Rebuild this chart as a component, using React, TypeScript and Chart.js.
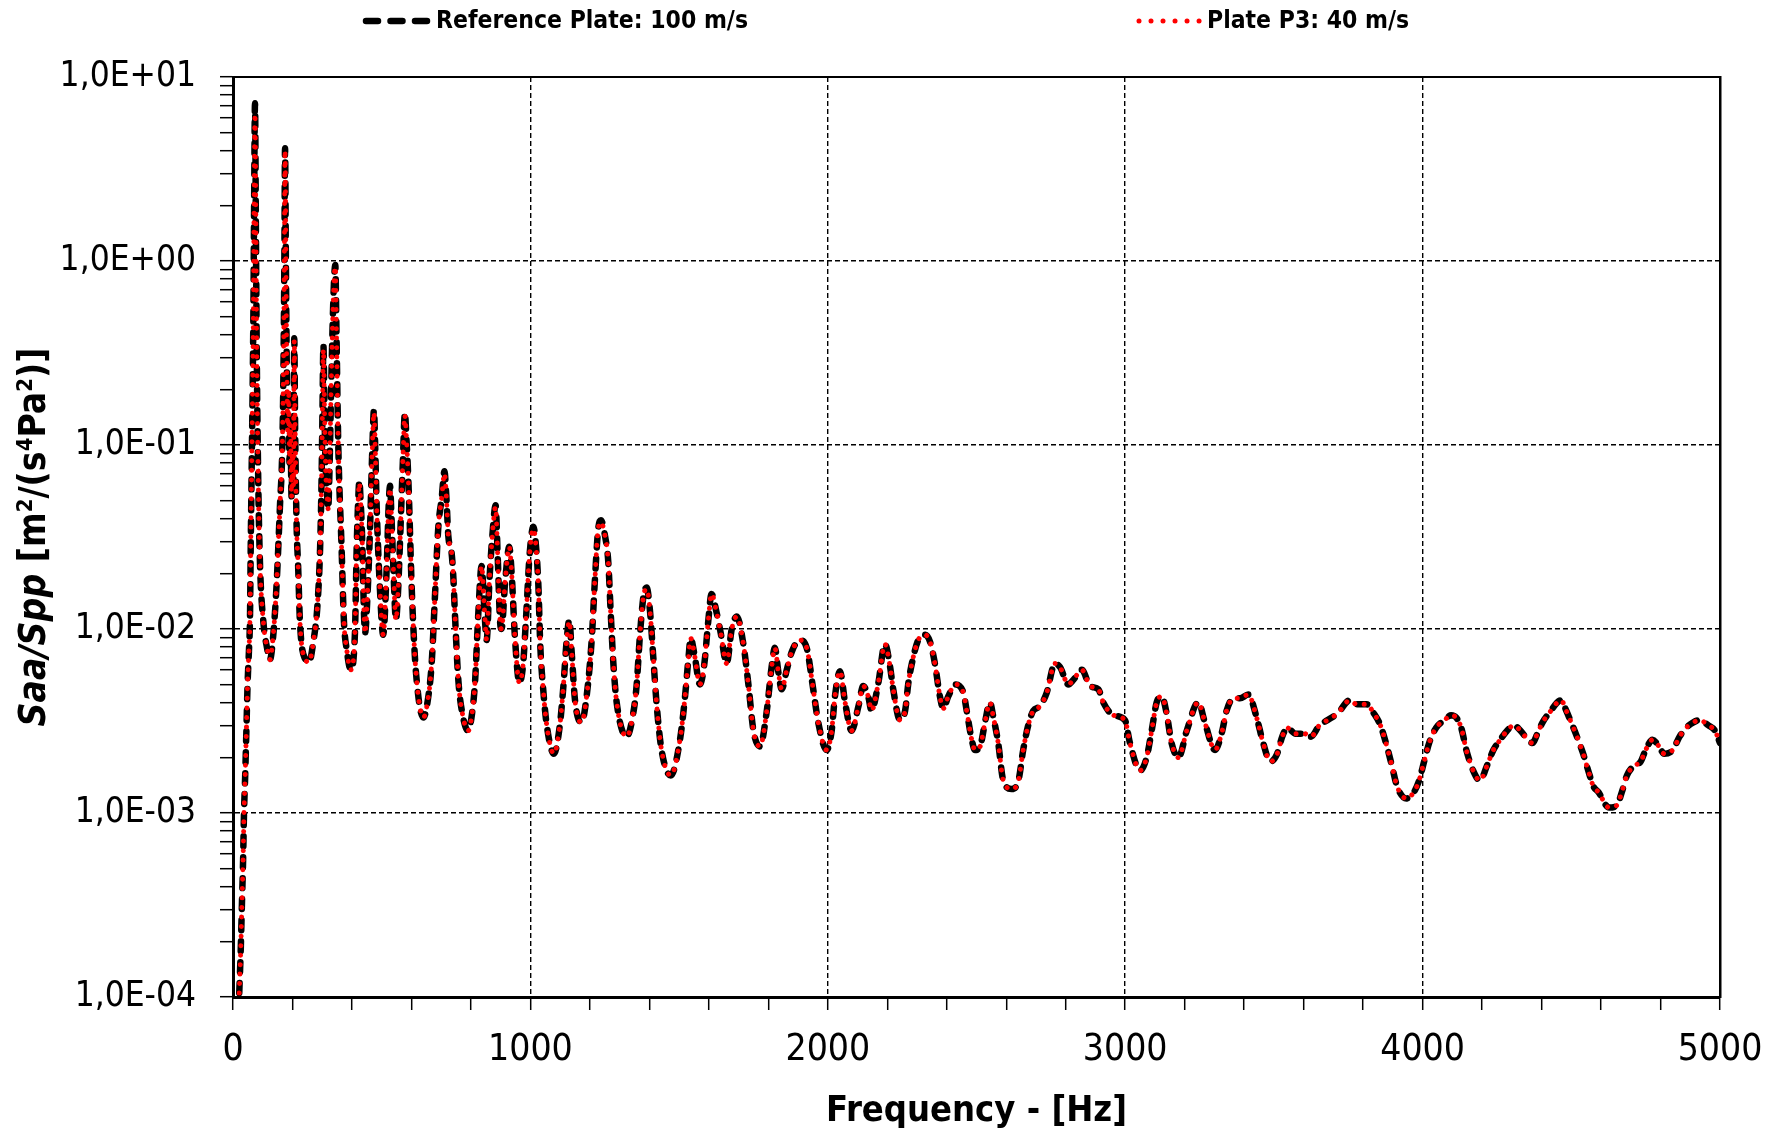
import React, { useEffect, useRef } from 'react';
import { Chart, registerables } from 'chart.js';

Chart.register(...registerables);

// ---------------- DATA ----------------
const frequencies = [
  21, 26, 30, 34, 37, 41, 45, 49, 54, 57, 60, 63, 66, 69, 71, 74, 77, 80, 85, 91,
  102, 115, 124, 136, 147, 158, 166, 170, 173, 175, 178, 181, 184, 187, 190, 193, 197, 200, 203, 206,
  209, 214, 219, 225, 242, 256, 270, 284, 293, 298, 301, 304, 308, 312, 316, 320, 325, 330, 335, 340,
  344, 348, 354, 365, 373, 382, 396, 410, 416, 421, 425, 429, 433, 444, 452, 461, 468, 474, 478, 483,
  494, 505, 517, 523, 528, 533, 539, 548, 555, 561, 571, 578, 583, 590, 601, 612, 620, 629, 640, 655,
  668, 679, 690, 702, 711, 718, 724, 735, 741, 746, 758, 774, 791, 803, 814, 825, 836, 845, 853, 862,
  872, 883, 890, 898, 903, 915, 929, 937, 948, 963, 975, 986, 997, 1010, 1019, 1027, 1033, 1044, 1055, 1079,
  1099, 1111, 1122, 1131, 1139, 1150, 1172, 1189, 1206, 1217, 1228, 1237, 1251, 1262, 1270, 1279, 1290, 1324, 1346, 1357,
  1368, 1380, 1391, 1402, 1413, 1425, 1441, 1472, 1503, 1520, 1531, 1539, 1552, 1570, 1585, 1598, 1609, 1626, 1640, 1660,
  1677, 1694, 1716, 1733, 1750, 1772, 1794, 1811, 1822, 1834, 1845, 1862, 1880, 1906, 1929, 1951, 1968, 1996, 2013, 2024,
  2041, 2058, 2080, 2103, 2119, 2136, 2147, 2170, 2192, 2209, 2220, 2243, 2260, 2271, 2288, 2304, 2327, 2344, 2360, 2377,
  2388, 2405, 2428, 2456, 2467, 2484, 2495, 2512, 2530, 2545, 2557, 2573, 2590, 2618, 2641, 2657, 2674, 2691, 2713, 2736,
  2764, 2781, 2809, 2826, 2854, 2882, 2910, 2926, 2960, 2999, 3016, 3050, 3072, 3089, 3106, 3123, 3139, 3156, 3179, 3207,
  3246, 3268, 3302, 3324, 3341, 3364, 3386, 3414, 3442, 3464, 3488, 3511, 3528, 3545, 3573, 3602, 3625, 3653, 3681, 3716,
  3755, 3778, 3812, 3835, 3858, 3880, 3897, 3914, 3945, 3971, 3988, 4005, 4022, 4045, 4074, 4096, 4113, 4130, 4147, 4170,
  4193, 4216, 4238, 4261, 4284, 4307, 4329, 4369, 4386, 4403, 4426, 4466, 4483, 4500, 4523, 4540, 4557, 4574, 4591, 4627,
  4653, 4670, 4687, 4710, 4733, 4750, 4773, 4795, 4812, 4841, 4864, 4886, 4909, 4932, 4960, 4983, 5000,
];

const referencePlateValues = [
  1.05e-4, 1.8e-4, 3.2e-4, 5.6e-4, 1.0e-3, 1.6e-3, 2.8e-3, 5.0e-3, 7.9e-3, 0.0112, 0.032, 0.079, 0.2, 0.63, 2.0, 7.2, 1.5, 0.3, 0.062, 0.022,
  0.011, 0.0078, 0.0068, 0.0095, 0.018, 0.047, 0.1, 0.29, 1.2, 4.1, 0.9, 0.25, 0.12, 0.2, 0.08, 0.13, 0.052, 0.09, 0.06, 0.38,
  0.12, 0.036, 0.022, 0.011, 0.0069, 0.0066, 0.0085, 0.0135, 0.028, 0.068, 0.16, 0.35, 0.14, 0.07, 0.055, 0.045, 0.08, 0.2, 0.45, 0.8,
  0.95, 0.4, 0.1, 0.028, 0.011, 0.0078, 0.006, 0.0095, 0.028, 0.05, 0.064, 0.05, 0.036, 0.0095, 0.015, 0.036, 0.09, 0.155, 0.1, 0.047,
  0.0166, 0.0093, 0.022, 0.045, 0.06, 0.04, 0.022, 0.0112, 0.016, 0.028, 0.08, 0.15, 0.11, 0.062, 0.0166, 0.0069, 0.0048, 0.0037, 0.0033, 0.0041,
  0.0065, 0.015, 0.035, 0.052, 0.072, 0.05, 0.032, 0.026, 0.019, 0.0123, 0.0052, 0.0033, 0.0028, 0.0034, 0.0052, 0.0123, 0.022, 0.013, 0.0087, 0.018,
  0.032, 0.047, 0.025, 0.011, 0.01, 0.018, 0.028, 0.02, 0.009, 0.0051, 0.0063, 0.012, 0.025, 0.036, 0.028, 0.017, 0.0083, 0.0045, 0.003, 0.0021,
  0.003, 0.0049, 0.0087, 0.0112, 0.0074, 0.0041, 0.0031, 0.0043, 0.0087, 0.0186, 0.035, 0.039, 0.032, 0.023, 0.0123, 0.0065, 0.004, 0.0026, 0.0035, 0.0049,
  0.0091, 0.015, 0.0168, 0.0126, 0.0071, 0.0038, 0.0022, 0.0016, 0.0025, 0.0043, 0.0068, 0.0089, 0.0072, 0.005, 0.0065, 0.011, 0.0155, 0.0123, 0.0095, 0.0065,
  0.01, 0.0117, 0.0083, 0.005, 0.0028, 0.0023, 0.0035, 0.0062, 0.0079, 0.0058, 0.0047, 0.006, 0.0076, 0.0087, 0.0079, 0.0047, 0.0031, 0.0022, 0.0028, 0.0043,
  0.0059, 0.004, 0.0028, 0.0038, 0.0049, 0.0043, 0.0036, 0.0051, 0.0083, 0.0063, 0.0047, 0.0032, 0.0036, 0.0051, 0.0071, 0.0087, 0.0093, 0.0085, 0.0065, 0.0043,
  0.0037, 0.0043, 0.005, 0.0045, 0.0036, 0.0025, 0.0022, 0.0023, 0.0032, 0.004, 0.0033, 0.0024, 0.0015, 0.00135, 0.0015, 0.0022, 0.003, 0.0036, 0.0038, 0.0045,
  0.0065, 0.0062, 0.005, 0.0053, 0.006, 0.0049, 0.0047, 0.004, 0.0034, 0.0032, 0.0024, 0.0017, 0.002, 0.0028, 0.004, 0.0043, 0.0035, 0.0024, 0.002, 0.0028,
  0.004, 0.0031, 0.0022, 0.0027, 0.0036, 0.0042, 0.0042, 0.0044, 0.0033, 0.0024, 0.0019, 0.0021, 0.0026, 0.0029, 0.0027, 0.0027, 0.0026, 0.003, 0.0032, 0.0035,
  0.0041, 0.0039, 0.0039, 0.0035, 0.003, 0.0023, 0.0018, 0.0014, 0.0012, 0.0013, 0.0015, 0.0019, 0.0024, 0.0029, 0.0032, 0.0034, 0.0033, 0.0029, 0.0022, 0.0017,
  0.0015, 0.0018, 0.0022, 0.0025, 0.0028, 0.003, 0.0028, 0.0024, 0.0027, 0.0031, 0.0035, 0.0041, 0.0036, 0.0031, 0.0025, 0.0021, 0.0017, 0.0014, 0.0013, 0.00107,
  0.0011, 0.0013, 0.0016, 0.0018, 0.0019, 0.0022, 0.0025, 0.0023, 0.0021, 0.0022, 0.0026, 0.0029, 0.0031, 0.0032, 0.003, 0.0028, 0.0024,
];

const plateP3Values = [
  1.05e-4, 1.8e-4, 3.2e-4, 5.6e-4, 1.0e-3, 1.6e-3, 2.8e-3, 5.0e-3, 7.9e-3, 0.0112, 0.032, 0.079, 0.2, 0.63, 2.0, 6.3, 1.5, 0.3, 0.062, 0.022,
  0.011, 0.0078, 0.0068, 0.0095, 0.018, 0.047, 0.1, 0.29, 1.2, 4.0, 0.9, 0.25, 0.12, 0.2, 0.08, 0.13, 0.052, 0.09, 0.06, 0.37,
  0.12, 0.036, 0.022, 0.011, 0.0069, 0.0066, 0.0085, 0.0135, 0.028, 0.068, 0.16, 0.33, 0.14, 0.07, 0.055, 0.045, 0.08, 0.2, 0.45, 0.8,
  0.93, 0.4, 0.1, 0.028, 0.011, 0.0078, 0.006, 0.0095, 0.028, 0.05, 0.062, 0.05, 0.036, 0.0095, 0.015, 0.036, 0.09, 0.15, 0.1, 0.047,
  0.0166, 0.0093, 0.022, 0.045, 0.058, 0.04, 0.022, 0.0112, 0.016, 0.028, 0.08, 0.145, 0.11, 0.062, 0.0166, 0.0069, 0.0048, 0.0037, 0.0033, 0.0041,
  0.0065, 0.015, 0.035, 0.052, 0.07, 0.05, 0.032, 0.026, 0.019, 0.0123, 0.0052, 0.0033, 0.0028, 0.0034, 0.0052, 0.0123, 0.022, 0.013, 0.0087, 0.018,
  0.032, 0.046, 0.025, 0.011, 0.01, 0.018, 0.028, 0.02, 0.009, 0.0051, 0.0063, 0.012, 0.025, 0.035, 0.028, 0.017, 0.0083, 0.0045, 0.003, 0.0021,
  0.003, 0.0049, 0.0087, 0.011, 0.0074, 0.0041, 0.0031, 0.0043, 0.0087, 0.0186, 0.035, 0.038, 0.032, 0.023, 0.0123, 0.0065, 0.004, 0.0026, 0.0035, 0.0049,
  0.0091, 0.015, 0.0165, 0.0126, 0.0071, 0.0038, 0.0022, 0.0016, 0.0025, 0.0043, 0.0068, 0.0089, 0.0072, 0.005, 0.0065, 0.011, 0.0155, 0.0123, 0.0095, 0.0065,
  0.01, 0.0117, 0.0083, 0.005, 0.0028, 0.0023, 0.0035, 0.0062, 0.0079, 0.0058, 0.0047, 0.006, 0.0076, 0.0087, 0.0079, 0.0047, 0.0031, 0.0022, 0.0028, 0.0043,
  0.0059, 0.004, 0.0028, 0.0038, 0.0049, 0.0043, 0.0036, 0.0051, 0.0083, 0.0063, 0.0047, 0.0032, 0.0036, 0.0051, 0.0071, 0.0087, 0.0093, 0.0085, 0.0065, 0.0043,
  0.0037, 0.0043, 0.005, 0.0045, 0.0036, 0.0025, 0.0022, 0.0023, 0.0032, 0.004, 0.0033, 0.0024, 0.0015, 0.00135, 0.0015, 0.0022, 0.003, 0.0036, 0.0038, 0.0045,
  0.0065, 0.0062, 0.005, 0.0053, 0.006, 0.0049, 0.0047, 0.004, 0.0034, 0.0032, 0.0024, 0.0017, 0.002, 0.0028, 0.004, 0.0043, 0.0035, 0.0024, 0.002, 0.0028,
  0.004, 0.0031, 0.0022, 0.0027, 0.0036, 0.0042, 0.0042, 0.0044, 0.0033, 0.0024, 0.0019, 0.0021, 0.0026, 0.0029, 0.0027, 0.0027, 0.0026, 0.003, 0.0032, 0.0035,
  0.0041, 0.0039, 0.0039, 0.0035, 0.003, 0.0023, 0.0018, 0.0014, 0.0012, 0.0013, 0.0015, 0.0019, 0.0024, 0.0029, 0.0032, 0.0034, 0.0033, 0.0029, 0.0022, 0.0017,
  0.0015, 0.0018, 0.0022, 0.0025, 0.0028, 0.003, 0.0028, 0.0024, 0.0027, 0.0031, 0.0035, 0.0041, 0.0036, 0.0031, 0.0025, 0.0021, 0.0017, 0.0014, 0.0013, 0.00107,
  0.0011, 0.0013, 0.0016, 0.0018, 0.0019, 0.0022, 0.0025, 0.0023, 0.0021, 0.0022, 0.0026, 0.0029, 0.0031, 0.0032, 0.003, 0.0028, 0.0024,
];

const seriesNames = ['Reference Plate: 100 m/s', 'Plate P3: 40 m/s'];
const xMajorTicks = [0, 1000, 2000, 3000, 4000, 5000];
const xTickLabels = ['0', '1000', '2000', '3000', '4000', '5000'];
const xMinorStep = 200;
const yMajorTicks = [1e-4, 1e-3, 1e-2, 1e-1, 1, 10];
const yTickLabels = ['1,0E-04', '1,0E-03', '1,0E-02', '1,0E-01', '1,0E+00', '1,0E+01'];
const xAxisTitle = 'Frequency - [Hz]';
// y title pieces: [text, style]
const yAxisTitleParts: [string, string][] = [
  ['Saa/Spp', 'italic'],
  [' [m', 'normal'],
  ['2', 'sup'],
  ['/(s', 'normal'],
  ['4', 'sup'],
  ['Pa', 'normal'],
  ['2', 'sup'],
  [')]', 'normal'],
];

// ---------------- STYLE ----------------
const FONT = "'Liberation Sans Narrow', 'DejaVu Sans Condensed', 'Open Sans', sans-serif";
const W = 1781;
const H = 1133;
const AREA = { left: 233, right: 1720, top: 77, bottom: 997 };
const BLACK_DASH = [10, 11];
const RED_DOT = [0.01, 9.5];

const isMajorX = (v: number) => xMajorTicks.indexOf(v) >= 0;
const isMajorY = (v: number) => yMajorTicks.some((m) => Math.abs(m - v) / m < 1e-6);

const textPlugin = {
  id: 'customText',
  afterDraw(chart: any) {
    const ctx = chart.ctx as CanvasRenderingContext2D;
    ctx.save();
    // legend
    const items = [
      { x0: 366, x1: 427, tx: 436, color: '#000000', width: 6.5, dash: [12, 12.5], label: seriesNames[0] },
      { x0: 1139, x1: 1201, tx: 1207, color: '#ff0000', width: 5, dash: [0.01, 12], label: seriesNames[1] },
    ];
    const ly = 21;
    for (const it of items) {
      ctx.save();
      ctx.strokeStyle = it.color;
      ctx.lineWidth = it.width;
      ctx.lineCap = 'round';
      ctx.setLineDash(it.dash);
      ctx.beginPath();
      ctx.moveTo(it.x0, ly);
      ctx.lineTo(it.x1, ly);
      ctx.stroke();
      ctx.restore();
      ctx.fillStyle = '#000';
      ctx.font = `bold 24.5px ${FONT}`;
      ctx.textAlign = 'left';
      ctx.textBaseline = 'middle';
      ctx.fillText(it.label, it.tx, ly + 1);
    }
    // y-axis title
    const size = 37;
    const supSize = 22;
    const fontFor = (style: string) =>
      style === 'italic' ? `italic bold ${size}px ${FONT}` : style === 'sup' ? `bold ${supSize}px ${FONT}` : `bold ${size}px ${FONT}`;
    let total = 0;
    for (const [t, s] of yAxisTitleParts) {
      ctx.font = fontFor(s);
      total += ctx.measureText(t).width;
    }
    const area = chart.chartArea;
    ctx.translate(35, (area.top + area.bottom) / 2);
    ctx.rotate(-Math.PI / 2);
    ctx.fillStyle = '#000';
    ctx.textAlign = 'left';
    ctx.textBaseline = 'middle';
    let x = -total / 2;
    for (const [t, s] of yAxisTitleParts) {
      ctx.font = fontFor(s);
      ctx.fillText(t, x, s === 'sup' ? -9 : 0);
      x += ctx.measureText(t).width;
    }
    ctx.restore();
  },
};

export default function App() {
  const canvasRef = useRef<HTMLCanvasElement | null>(null);

  useEffect(() => {
    const canvas = canvasRef.current;
    if (!canvas) return;

    const refData = frequencies.map((f, i) => ({ x: f, y: referencePlateValues[i] }));
    const p3Data = frequencies.map((f, i) => ({ x: f, y: plateP3Values[i] }));

    const chart = new Chart(canvas, {
      type: 'line',
      data: {
        datasets: [
          {
            label: seriesNames[0],
            data: refData,
            borderColor: '#000000',
            borderWidth: 6.5,
            borderDash: BLACK_DASH,
            borderCapStyle: 'round',
            borderJoinStyle: 'round',
            pointRadius: 0,
            fill: false,
            cubicInterpolationMode: 'monotone',
            order: 2,
            xAxisID: 'x',
            yAxisID: 'y',
          },
          {
            label: seriesNames[1],
            data: p3Data,
            borderColor: '#ff0000',
            borderWidth: 5,
            borderDash: RED_DOT,
            borderCapStyle: 'round',
            borderJoinStyle: 'round',
            pointRadius: 0,
            fill: false,
            cubicInterpolationMode: 'monotone',
            order: 1,
            xAxisID: 'x',
            yAxisID: 'y',
          },
        ],
      },
      options: {
        responsive: false,
        animation: false,
        events: [],
        layout: { padding: { top: AREA.top, left: 0, right: W - AREA.right, bottom: 0 } },
        plugins: {
          legend: { display: false },
          tooltip: { enabled: false },
          title: { display: false },
        },
        scales: {
          x: {
            type: 'linear',
            position: 'bottom',
            min: 0,
            max: 5000,
            afterBuildTicks: (scale: any) => {
              const ticks = [];
              for (let v = 0; v <= 5000; v += xMinorStep) ticks.push({ value: v, major: isMajorX(v) });
              scale.ticks = ticks;
            },
            afterFit: (scale: any) => {
              scale.height = H - AREA.bottom;
              scale.paddingLeft = 0;
              scale.paddingRight = 0;
            },
            ticks: {
              autoSkip: false,
              maxRotation: 0,
              color: '#000',
              padding: 22,
              font: { family: FONT, size: 37, lineHeight: 1 },
              callback: (value: any) => {
                const i = xMajorTicks.indexOf(Number(value));
                return i >= 0 ? xTickLabels[i] : '';
              },
            },
            grid: {
              color: (c: any) => (c.tick && isMajorX(c.tick.value) ? '#000' : 'rgba(0,0,0,0)'),
              lineWidth: 1.4,
              tickColor: '#000',
              tickLength: 13,
              tickWidth: 1.5,
              tickBorderDash: [],
            },
            border: { display: true, color: '#000', width: 3, dash: [5, 3] },
            title: {
              display: true,
              text: xAxisTitle,
              color: '#000',
              font: { family: FONT, size: 36, weight: 'bold', lineHeight: 1 },
              padding: { top: 0, bottom: 3 },
            },
          },
          x2: {
            type: 'linear',
            position: 'top',
            min: 0,
            max: 5000,
            afterFit: (scale: any) => {
              scale.height = 0;
              scale.paddingLeft = 0;
              scale.paddingRight = 0;
            },
            ticks: { display: false },
            grid: { drawOnChartArea: false, drawTicks: false },
            border: { display: true, color: '#000', width: 2 },
          },
          y: {
            type: 'logarithmic',
            position: 'left',
            min: 1e-4,
            max: 10,
            afterBuildTicks: (scale: any) => {
              const ticks = [];
              for (let e = -4; e <= 0; e++) {
                for (let m = 1; m <= 9; m++) {
                  const v = Number((m * Math.pow(10, e)).toPrecision(6));
                  ticks.push({ value: v, major: m === 1 });
                }
              }
              ticks.push({ value: 10, major: true });
              scale.ticks = ticks;
            },
            afterFit: (scale: any) => {
              scale.width = AREA.left;
            },
            ticks: {
              autoSkip: false,
              color: '#000',
              padding: 24,
              font: { family: FONT, size: 35, lineHeight: 1 },
              callback: (value: any) => {
                const v = Number(value);
                const i = yMajorTicks.findIndex((m) => Math.abs(m - v) / m < 1e-6);
                return i >= 0 ? yTickLabels[i] : '';
              },
            },
            grid: {
              color: (c: any) => (c.tick && isMajorY(c.tick.value) ? '#000' : 'rgba(0,0,0,0)'),
              lineWidth: 1.4,
              tickColor: '#000',
              tickLength: 13,
              tickWidth: 1.5,
              tickBorderDash: [],
            },
            border: { display: true, color: '#000', width: 3, dash: [5, 3] },
          },
          y2: {
            type: 'linear',
            position: 'right',
            min: 0,
            max: 1,
            afterFit: (scale: any) => {
              scale.width = 0;
            },
            ticks: { display: false },
            grid: { drawOnChartArea: false, drawTicks: false },
            border: { display: true, color: '#000', width: 2.5 },
          },
        },
      },
      plugins: [textPlugin],
    } as any);

    return () => {
      chart.destroy();
    };
  }, []);

  return (
    <div style={{ position: 'fixed', left: 0, top: 0, width: W, height: H, background: '#fff' }}>
      <canvas ref={canvasRef} width={W} height={H} style={{ display: 'block', width: W, height: H }} />
    </div>
  );
}
